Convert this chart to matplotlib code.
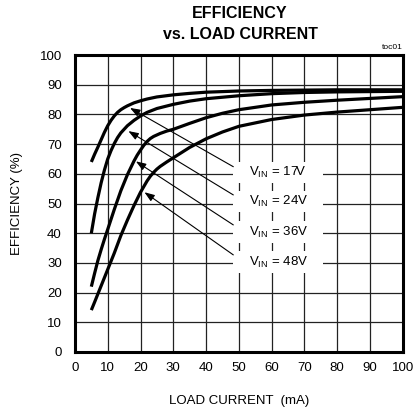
import matplotlib
matplotlib.use("Agg")
import matplotlib.pyplot as plt
from matplotlib.patches import Rectangle

plt.rcParams['font.family'] = ['Liberation Sans Narrow', 'Liberation Sans', 'DejaVu Sans']
plt.rcParams['mathtext.fontset'] = 'custom'
plt.rcParams['mathtext.rm'] = 'Liberation Sans'
plt.rcParams['mathtext.it'] = 'Liberation Sans'

title_lines = ["EFFICIENCY", "vs. LOAD CURRENT"]
xlabel = "LOAD CURRENT  (mA)"
ylabel = "EFFICIENCY (%)"
xticks = [0, 10, 20, 30, 40, 50, 60, 70, 80, 90, 100]
yticks = [0, 10, 20, 30, 40, 50, 60, 70, 80, 90, 100]

x17 = [5, 6, 7, 8, 9, 10, 11, 12, 13, 14, 15, 16, 18, 20, 22, 25, 30, 35, 40, 50, 60, 70, 80, 90, 100]
y17 = [64, 66.6, 69, 71.5, 74, 76.2, 78, 79.5, 80.7, 81.6, 82.3, 82.9, 83.9, 84.6, 85.2, 85.9, 86.6, 87.1, 87.5, 87.9, 88.1, 88.2, 88.3, 88.3, 88.3]

x24 = [5, 6, 7, 8, 9, 10, 11, 12, 13, 14, 16, 18, 20, 22, 25, 30, 35, 40, 50, 60, 70, 80, 90, 100]
y24 = [40, 46.5, 52, 57, 61.3, 65, 67.8, 70.2, 72.2, 73.8, 76.2, 78, 79.5, 80.7, 82, 83.4, 84.5, 85.3, 86.3, 87, 87.4, 87.6, 87.7, 87.8]

x36 = [5, 6, 7, 8, 9, 10, 12, 14, 16, 18, 19, 20, 21, 22, 23, 24, 26, 28, 30, 35, 40, 45, 50, 60, 70, 80, 90, 100]
y36 = [22, 26.5, 30.8, 34.5, 38, 41.3, 48, 54.3, 59.7, 64.3, 66.3, 68, 69.6, 70.9, 71.9, 72.6, 73.6, 74.4, 75, 77, 78.9, 80.4, 81.6, 83.2, 84.1, 84.8, 85.4, 86]

x48 = [5, 6, 8, 10, 12, 14, 16, 18, 20, 22, 23, 24, 25, 26, 28, 30, 35, 40, 45, 50, 60, 70, 80, 90, 100]
y48 = [14.1, 16.8, 22.3, 27.8, 33.3, 39.2, 44.4, 49.3, 53.8, 57.6, 59.2, 60.5, 61.6, 62.5, 64, 65.4, 68.9, 71.8, 74.1, 76, 78.3, 79.8, 80.8, 81.6, 82.4]

labels = [r"V$_{\mathrm{IN}}$ = 17V", r"V$_{\mathrm{IN}}$ = 24V", r"V$_{\mathrm{IN}}$ = 36V", r"V$_{\mathrm{IN}}$ = 48V"]
label_x = [62, 62, 62, 62]
label_y = [60.5, 50.7, 40.4, 30.2]
arrow_tip = [(16.8, 82.2), (16.3, 74.4), (18.6, 64.2), (21.2, 53.8)]
arrow_tail = [(48.3, 62.4), (48.3, 52.9), (48.3, 42.8), (48.3, 32.7)]

BOX_W, BOX_H = 27.5, 7.3

fig = plt.figure(figsize=(4.14, 4.11), dpi=100)
ax = fig.add_axes([0.181, 0.1436, 0.792, 0.7224])
ax.set_xlim(0, 100)
ax.set_ylim(0, 100)
ax.set_xticks(xticks)
ax.set_yticks(yticks)
ax.grid(True, color='#222222', linewidth=0.9)
ax.set_axisbelow(True)
for s in ax.spines.values():
    s.set_linewidth(2.2)
    s.set_zorder(6)
ax.tick_params(axis='both', length=0, labelsize=9.5)
ax.tick_params(axis='x', pad=7.5)
ax.tick_params(axis='y', pad=9.5)

for xs, ys in [(x17, y17), (x24, y24), (x36, y36), (x48, y48)]:
    ax.plot(xs, ys, color='black', linewidth=2.3, solid_capstyle='butt',
            solid_joinstyle='round', zorder=3)

for lab, lx, ly in zip(labels, label_x, label_y):
    ax.add_patch(Rectangle((lx - BOX_W / 2, ly - BOX_H / 2), BOX_W, BOX_H,
                           facecolor='white', edgecolor='none', zorder=2.5))
    ax.text(lx, ly, lab, ha='center', va='center', fontsize=9.5, zorder=4)

for tip, tail in zip(arrow_tip, arrow_tail):
    ax.annotate('', xy=tip, xytext=tail,
                arrowprops=dict(arrowstyle='-|>,head_length=0.6,head_width=0.22',
                                color='black', lw=0.8,
                                mutation_scale=10, shrinkA=0, shrinkB=0),
                zorder=5)

ax.set_xlabel(xlabel, fontsize=9.5, labelpad=15)
ax.set_ylabel(ylabel, fontsize=9.5, labelpad=12)
fig.text(0.58, 0.968, title_lines[0], ha='center', va='center', fontsize=11.5, fontweight='bold')
fig.text(0.58, 0.917, title_lines[1], ha='center', va='center', fontsize=11.5, fontweight='bold')
fig.text(0.972, 0.875, "toc01", ha='right', va='bottom', fontsize=6)

fig.savefig("out.png", dpi=100)
